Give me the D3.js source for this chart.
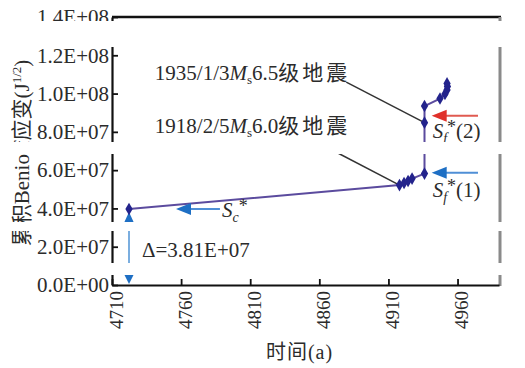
<!DOCTYPE html>
<html>
<head>
<meta charset="utf-8">
<script src="https://cdn.jsdelivr.net/npm/d3@7"></script>
<style>
  body { margin: 0; background: #fff; }
  svg text { font-family: "Liberation Serif", "Times New Roman", "DejaVu Serif", "Noto Sans CJK SC", serif; fill: #2b2b2b; }
</style>
</head>
<body>
<div id="chart"></div>
<script>
// data
const years = [4722.3, 4918.0, 4921.3, 4924.2, 4927.1, 4936.1, 4936.1, 4936.1, 4947.3, 4950.9, 4952.4, 4952.7, 4952.4]
const strain = [3.97e7, 5.22e7, 5.33e7, 5.43e7, 5.56e7, 5.82e7, 8.48e7, 9.35e7, 9.74e7, 9.98e7, 1.019e8, 1.037e8, 1.053e8]
const xTicks = [4710, 4760, 4810, 4860, 4910, 4960]
const yTicks = [0, 2e7, 4e7, 6e7, 8e7, 1e8, 1.2e8, 1.4e8]
const deltaValue = 3.81e7
// arrows: [tipYear, tailYear, value]
const arrowSc = [4756.3, 4788.1, 3.97e7]
const arrowSf1 = [4941.3, 4974.8, 5.87e7]
const arrowSf2 = [4941.3, 4974.8, 8.84e7]
// scan gaps in the printed figure (white strips)
const scanGaps = [[21, 47], [142, 154], [222, 231], [263, 275]]

const width = 525, height = 368
const margin = { top: 17, right: 26, bottom: 83, left: 112 }
const serif = '"Liberation Serif", "Times New Roman", serif'

const svg = d3.select("#chart").append("svg")
    .attr("width", width)
    .attr("height", height)

const x = d3.scaleLinear().domain([4710, 4990]).range([margin.left, width - margin.right])
const y = d3.scaleLinear().domain([0, 1.4e8]).range([height - margin.bottom, margin.top])

const fmt = v => {
    if (v === 0) return "0.0E+00"
    const e = Math.floor(Math.log10(v))
    return (v / Math.pow(10, e)).toFixed(1) + "E+" + String(e).padStart(2, "0")
}

// frame: top black line, right grey line
svg.append("line")
    .attr("x1", margin.left).attr("x2", width - margin.right + 2)
    .attr("y1", y(1.4e8)).attr("y2", y(1.4e8))
    .attr("stroke", "#111").attr("stroke-width", 2.5)
svg.append("line")
    .attr("x1", width - margin.right + 1).attr("x2", width - margin.right + 1)
    .attr("y1", y(1.4e8)).attr("y2", y(0) + 1)
    .attr("stroke", "#8a8a8a").attr("stroke-width", 3)

// axes
const yAxis = svg.append("g")
    .attr("transform", `translate(${margin.left},0)`)
    .call(d3.axisLeft(y).tickValues(yTicks).tickFormat(fmt).tickSizeInner(-6).tickSizeOuter(0).tickPadding(3))
    .attr("font-family", serif)
yAxis.select(".domain").attr("stroke", "#111").attr("stroke-width", 2.2)
yAxis.selectAll(".tick line").attr("stroke", "#111").attr("stroke-width", 1.8)
yAxis.selectAll("text").attr("font-size", "21px").attr("fill", "#2b2b2b")

const xAxis = svg.append("g")
    .attr("transform", `translate(0,${y(0)})`)
    .call(d3.axisBottom(x).tickValues(xTicks).tickFormat(d3.format("d")).tickSizeInner(-6).tickSizeOuter(0))
    .attr("font-family", serif)
xAxis.select(".domain").attr("stroke", "#111").attr("stroke-width", 2.2)
xAxis.selectAll(".tick line").attr("stroke", "#111").attr("stroke-width", 1.8)
xAxis.selectAll("text")
    .attr("transform", "rotate(-90)")
    .attr("text-anchor", "end")
    .attr("x", -6).attr("y", 0).attr("dy", "0.55em")
    .attr("font-size", "19px").attr("fill", "#2b2b2b")

// axis titles
const yTitle = svg.append("text")
    .attr("transform", "translate(29,153) rotate(-90)")
    .attr("text-anchor", "middle")
    .attr("font-size", "21px")
yTitle.append("tspan").text("累积Benioff应变(J")
yTitle.append("tspan").attr("font-size", "13px").attr("dy", "-8").text("1/2")
yTitle.append("tspan").attr("dy", "8").text(")")

svg.append("text")
    .attr("x", (x.range()[0] + x.range()[1]) / 2 - 6)
    .attr("y", 359)
    .attr("text-anchor", "middle")
    .attr("font-size", "20px")
    .attr("letter-spacing", "1px")
    .text("时间(a)")

// annotation leaders
const leaders = [
    { from: [4879.5, 1.06e8], to: [years[6], strain[6]] },
    { from: [4864.0, 7.25e7], to: [years[1], strain[1]] }
]
svg.selectAll(".leader")
    .data(leaders)
    .join("line")
    .attr("class", "leader")
    .attr("x1", d => x(d.from[0])).attr("y1", d => y(d.from[1]))
    .attr("x2", d => x(d.to[0])).attr("y2", d => y(d.to[1]))
    .attr("stroke", "#333").attr("stroke-width", 1.5)

// delta double arrow
const dx = x(years[0])
svg.append("line")
    .attr("x1", dx).attr("x2", dx)
    .attr("y1", y(deltaValue) + 10).attr("y2", y(0) - 10)
    .attr("stroke", "#5a9ad8").attr("stroke-width", 1.6)
svg.append("path")
    .attr("d", `M${dx},${y(deltaValue)} l-5.5,12 l11,0 Z`)
    .attr("fill", "#1e6fc4")
svg.append("path")
    .attr("d", `M${dx},${y(0) - 1} l-5.5,-11 l11,0 Z`)
    .attr("fill", "#1e6fc4")
svg.append("text")
    .attr("x", dx + 13).attr("y", 257)
    .attr("font-size", "21px")
    .text("Δ=3.81E+07")

// series line and markers
const line = d3.line().x((d, i) => x(years[i])).y(d => y(d))
svg.append("path")
    .datum(strain)
    .attr("d", line)
    .attr("fill", "none")
    .attr("stroke", "#5b4b9e")
    .attr("stroke-width", 2)
svg.selectAll(".pt")
    .data(strain)
    .join("path")
    .attr("class", "pt")
    .attr("transform", (d, i) => `translate(${x(years[i])},${y(d)})`)
    .attr("d", d3.symbol(d3.symbolDiamond, 46))
    .attr("fill", "#23238c")

// arrows
function arrow(a, headColor, lineColor) {
    const tip = x(a[0]), tail = x(a[1]), yy = y(a[2])
    svg.append("line")
        .attr("x1", tip + 12).attr("x2", tail)
        .attr("y1", yy).attr("y2", yy)
        .attr("stroke", lineColor).attr("stroke-width", 2)
    svg.append("path")
        .attr("d", `M${tip},${yy} l15,-6 l0,12 Z`)
        .attr("fill", headColor)
}
arrow(arrowSc, "#1e6fc4", "#4f8fd6")
arrow(arrowSf1, "#1e6fc4", "#4f8fd6")
arrow(arrowSf2, "#e0302a", "#e05a50")

function sLabel(px, py, sub, tail) {
    const t = svg.append("text").attr("x", px).attr("y", py).attr("font-size", "21px")
    t.append("tspan").attr("font-style", "italic").text("S")
    t.append("tspan").attr("font-style", "italic").attr("font-size", "14px").attr("dy", 5).text(sub)
    t.append("tspan").attr("font-size", "18px").attr("dy", -10).text("*")
    if (tail) t.append("tspan").attr("dy", 5).text(tail)
}
sLabel(x(arrowSc[1]) + 2, y(arrowSc[2]) + 8, "c", "")
sLabel(x(arrowSf1[0]) + 1, y(arrowSf1[2]) + 24, "f", "(1)")
sLabel(x(arrowSf2[0]) + 1, y(arrowSf2[2]) + 22, "f", "(2)")

// event annotations
function quake(px, py, date, mag) {
    const t = svg.append("text").attr("x", px).attr("y", py).attr("font-size", "21px")
    t.append("tspan").text(date)
    t.append("tspan").attr("font-style", "italic").text("M")
    t.append("tspan").attr("font-size", "13px").attr("dy", 4).text("s")
    t.append("tspan").attr("dy", -4).text(mag)
    t.append("tspan").attr("letter-spacing", "3px").text("级地震")
}
quake(x(4741), y(1.071e8), "1935/1/3", "6.5")
quake(x(4741), y(7.94e7), "1918/2/5", "6.0")

// white strips of the scanned original
svg.selectAll(".gap")
    .data(scanGaps)
    .join("rect")
    .attr("class", "gap")
    .attr("x", 0).attr("width", width)
    .attr("y", d => d[0]).attr("height", d => d[1] - d[0])
    .attr("fill", "#fff")
</script>
</body>
</html>
